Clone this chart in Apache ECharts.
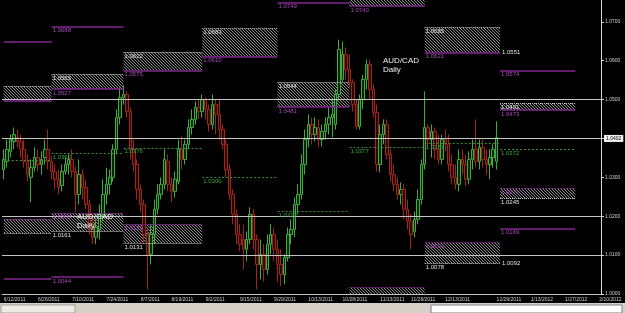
<!DOCTYPE html>
<html lang="en">
<head>
<meta charset="UTF-8">
<title>AUD/CAD Daily</title>
<script src="https://cdn.jsdelivr.net/npm/echarts@6/dist/echarts.min.js"></script>
<style>
    html, body { margin: 0; padding: 0; background: #000; }
    #chart { width: 625px; height: 313px; }
</style>
</head>
<body>
<div id="chart"></div>
<script>
    // monthly pivot periods (start of each month on the chart)
    var segStarts = ['2011-06-13', '2011-07-01', '2011-08-01', '2011-09-01', '2011-10-03',
                     '2011-11-01', '2011-12-01', '2012-01-02', '2012-02-01', '2012-02-10'];

    // x labels, index of the bar they sit on + text
    var tickIdx = [0, 10, 20, 30, 40, 49, 59, 69, 79, 89, 99, 110, 119, 129, 144, 154, 164, 174];
    var tickText = ['6/12/2011', '6/26/2011', '7/10/2011', '7/24/2011', '8/7/2011', '8/19/2011',
                    '9/2/2011', '9/15/2011', '9/29/2011', '10/13/2011', '10/28/2011', '11/13/2011',
                    '11/28/2011', '12/13/2011', '12/29/2011', '1/13/2012', '1/27/2012', '2/10/2012'];

    // daily bars: open, close, low, high
    var candles = [
        [1.0320,1.0346,1.0295,1.0372],[1.0341,1.0372,1.0325,1.0397],[1.0367,1.0397,1.0351,1.0410],
        [1.0392,1.0410,1.0372,1.0428],[1.0403,1.0392,1.0377,1.0423],[1.0392,1.0372,1.0351,1.0410],
        [1.0372,1.0341,1.0325,1.0397],[1.0341,1.0307,1.0289,1.0359],[1.0300,1.0325,1.0236,1.0346],
        [1.0325,1.0351,1.0315,1.0377],[1.0351,1.0333,1.0315,1.0372],[1.0333,1.0346,1.0307,1.0367],
        [1.0351,1.0372,1.0333,1.0397],[1.0372,1.0341,1.0320,1.0423],[1.0341,1.0315,1.0295,1.0354],
        [1.0315,1.0295,1.0269,1.0333],[1.0295,1.0274,1.0256,1.0320],[1.0279,1.0315,1.0264,1.0333],
        [1.0315,1.0333,1.0307,1.0351],[1.0333,1.0346,1.0307,1.0359],[1.0346,1.0315,1.0300,1.0372],
        [1.0315,1.0256,1.0210,1.0328],[1.0256,1.0307,1.0230,1.0346],[1.0307,1.0274,1.0243,1.0320],
        [1.0274,1.0230,1.0218,1.0295],[1.0230,1.0179,1.0153,1.0243],[1.0179,1.0146,1.0128,1.0197],
        [1.0146,1.0171,1.0128,1.0192],[1.0166,1.0205,1.0140,1.0230],[1.0205,1.0256,1.0187,1.0295],
        [1.0256,1.0282,1.0230,1.0325],[1.0282,1.0300,1.0256,1.0320],[1.0300,1.0372,1.0289,1.0385],
        [1.0372,1.0454,1.0359,1.0475],[1.0454,1.0505,1.0436,1.0531],[1.0505,1.0513,1.0487,1.0536],
        [1.0513,1.0469,1.0454,1.0521],[1.0469,1.0372,1.0346,1.0480],[1.0372,1.0333,1.0315,1.0397],
        [1.0333,1.0269,1.0243,1.0346],[1.0269,1.0230,1.0212,1.0282],[1.0230,1.0153,1.0128,1.0243],
        [1.0153,1.0102,1.0012,1.0166],[1.0102,1.0153,1.0076,1.0179],[1.0153,1.0218,1.0128,1.0243],
        [1.0218,1.0256,1.0205,1.0282],[1.0256,1.0282,1.0243,1.0300],[1.0282,1.0346,1.0269,1.0372],
        [1.0341,1.0282,1.0264,1.0359],[1.0282,1.0264,1.0236,1.0300],[1.0264,1.0295,1.0248,1.0315],
        [1.0289,1.0372,1.0282,1.0397],[1.0372,1.0346,1.0320,1.0405],[1.0346,1.0385,1.0333,1.0397],
        [1.0385,1.0428,1.0372,1.0449],[1.0428,1.0449,1.0410,1.0475],[1.0449,1.0480,1.0436,1.0495],
        [1.0480,1.0469,1.0449,1.0500],[1.0469,1.0500,1.0454,1.0513],[1.0500,1.0475,1.0449,1.0505],
        [1.0475,1.0436,1.0418,1.0487],[1.0436,1.0487,1.0423,1.0513],[1.0487,1.0462,1.0410,1.0500],
        [1.0462,1.0423,1.0397,1.0500],[1.0423,1.0385,1.0372,1.0436],[1.0385,1.0320,1.0300,1.0397],
        [1.0320,1.0256,1.0243,1.0333],[1.0256,1.0205,1.0179,1.0269],[1.0205,1.0153,1.0128,1.0218],
        [1.0153,1.0128,1.0110,1.0179],[1.0140,1.0115,1.0063,1.0179],[1.0115,1.0140,1.0084,1.0161],
        [1.0140,1.0205,1.0128,1.0223],[1.0205,1.0140,1.0115,1.0218],[1.0140,1.0076,1.0012,1.0153],
        [1.0076,1.0102,1.0038,1.0140],[1.0102,1.0063,1.0032,1.0128],[1.0063,1.0128,1.0050,1.0153],
        [1.0128,1.0153,1.0102,1.0179],[1.0153,1.0115,1.0084,1.0171],[1.0115,1.0076,1.0030,1.0140],
        [1.0076,1.0050,1.0020,1.0115],[1.0050,1.0094,1.0025,1.0102],[1.0094,1.0153,1.0084,1.0171],
        [1.0153,1.0166,1.0128,1.0192],[1.0166,1.0230,1.0146,1.0248],[1.0230,1.0256,1.0205,1.0282],
        [1.0256,1.0333,1.0243,1.0359],[1.0333,1.0397,1.0307,1.0423],[1.0397,1.0436,1.0377,1.0462],
        [1.0436,1.0410,1.0385,1.0454],[1.0410,1.0428,1.0392,1.0454],[1.0428,1.0397,1.0377,1.0449],
        [1.0397,1.0418,1.0379,1.0436],[1.0418,1.0436,1.0397,1.0454],[1.0436,1.0454,1.0410,1.0480],
        [1.0454,1.0462,1.0403,1.0500],[1.0436,1.0513,1.0423,1.0526],[1.0513,1.0629,1.0500,1.0654],
        [1.0552,1.0616,1.0546,1.0649],[1.0616,1.0577,1.0552,1.0634],[1.0577,1.0544,1.0531,1.0616],
        [1.0544,1.0487,1.0469,1.0552],[1.0487,1.0431,1.0423,1.0500],[1.0431,1.0500,1.0423,1.0513],
        [1.0500,1.0552,1.0475,1.0564],[1.0552,1.0590,1.0526,1.0603],[1.0590,1.0526,1.0500,1.0603],
        [1.0526,1.0467,1.0454,1.0539],[1.0467,1.0333,1.0315,1.0487],[1.0333,1.0410,1.0313,1.0436],
        [1.0410,1.0436,1.0385,1.0449],[1.0436,1.0359,1.0346,1.0449],[1.0359,1.0307,1.0289,1.0372],
        [1.0307,1.0282,1.0264,1.0333],[1.0282,1.0256,1.0243,1.0300],[1.0256,1.0269,1.0230,1.0287],
        [1.0269,1.0218,1.0192,1.0282],[1.0218,1.0187,1.0166,1.0243],[1.0187,1.0153,1.0115,1.0205],
        [1.0161,1.0192,1.0146,1.0212],[1.0192,1.0243,1.0179,1.0269],[1.0243,1.0333,1.0230,1.0346],
        [1.0333,1.0428,1.0320,1.0521],[1.0428,1.0397,1.0372,1.0436],[1.0397,1.0418,1.0351,1.0436],
        [1.0418,1.0372,1.0346,1.0428],[1.0372,1.0346,1.0333,1.0410],[1.0346,1.0397,1.0333,1.0410],
        [1.0397,1.0385,1.0367,1.0423],[1.0385,1.0333,1.0315,1.0410],[1.0333,1.0300,1.0282,1.0359],
        [1.0300,1.0282,1.0269,1.0333],[1.0282,1.0346,1.0264,1.0372],[1.0346,1.0333,1.0307,1.0372],
        [1.0333,1.0295,1.0277,1.0359],[1.0295,1.0346,1.0282,1.0367],[1.0346,1.0372,1.0320,1.0397],
        [1.0372,1.0341,1.0325,1.0449],[1.0341,1.0377,1.0320,1.0397],[1.0377,1.0346,1.0325,1.0397],
        [1.0346,1.0333,1.0307,1.0372],[1.0333,1.0351,1.0295,1.0372],[1.0351,1.0372,1.0325,1.0385],
        [1.0341,1.0402,1.0320,1.0444]
    ];

    // pivot zones per month: [segment, top, bottom, top label, bottom label]
    var upperZones = [
        [0, 1.0534, 1.0498, '', ''],
        [1, 1.0565, 1.0527, '1.0565', '1.0527'],
        [2, 1.0622, 1.0575, '1.0622', '1.0575'],
        [3, 1.0683, 1.0610, '1.0683', '1.0610'],
        [4, 1.0544, 1.0481, '1.0544', '1.0481'],
        [5, 1.0790, 1.0740, '', '1.0740'],
        [6, 1.0685, 1.0621, '1.0685', '1.0621'],
        [7, 1.0491, 1.0473, '1.0491', '1.0473']
    ];
    var lowerZones = [
        [0, 1.0192, 1.0156, '', ''],
        [1, 1.0207, 1.0161, '1.0207', '1.0161'],
        [2, 1.0179, 1.0131, '1.0179', '1.0131'],
        [5, 1.0017, 1.0000, '', ''],
        [6, 1.0133, 1.0078, '1.0133', '1.0078'],
        [7, 1.0271, 1.0245, '1.0271', '1.0245']
    ];
    // single purple levels: [segment, value, label]
    var purpleLines = [
        [0, 1.0649, ''], [0, 1.0038, ''], [1, 1.0688, '1.0688'], [1, 1.0044, '1.0044'],
        [4, 1.0749, '1.0749'], [7, 1.0574, '1.0574'], [7, 1.0169, '1.0169']
    ];
    // monthly pivot (green dotted): [segment, value, label]
    var pivots = [
        [0, 1.0343, ''], [1, 1.0362, '1.0362'], [2, 1.0376, '1.0376'], [3, 1.0300, '1.0300'],
        [4, 1.0213, '1.0213'], [5, 1.0377, '1.0377'], [6, 1.0387, '1.0387'], [7, 1.0372, '1.0372']
    ];
    // text at the right end of a zone: [segment, value, text]
    var endTags = [[6, 1.0621, '1.0551'], [6, 1.0078, '1.0092']];
    // hand drawn support / resistance lines
    var whiteLevels = [1.0500, 1.0444, 1.0236, 1.0189, 1.0128, 1.0022];
    var lastPrice = 1.0402;

    var FONT = 'Liberation Sans';
    var PURPLE = '#84268f';
    var PURPLE_TXT = '#a948bb';
    var WHITE_TXT = '#e0e0e0';
    var GREEN = '#3a913a';

    function weekdays(from, to) {
        var out = [];
        var d = new Date(from + 'T00:00:00Z');
        var end = new Date(to + 'T00:00:00Z');
        while (d <= end) {
            var wd = d.getUTCDay();
            if (wd !== 0 && wd !== 6) out.push(d.toISOString().slice(0, 10));
            d.setUTCDate(d.getUTCDate() + 1);
        }
        return out;
    }
    var dates = weekdays('2011-06-13', '2012-02-10');

    // diagonal hatch for the zones
    var hatch = document.createElement('canvas');
    hatch.width = 3;
    hatch.height = 3;
    var hc = hatch.getContext('2d');
    hc.fillStyle = '#050505';
    hc.fillRect(0, 0, 3, 3);
    hc.fillStyle = '#8e8e8e';
    for (var k = 0; k < 3; k++) hc.fillRect(k, k, 1, 1);

    function seg(s, v, line, label) {
        var a = {coord: [segStarts[s], v], lineStyle: line};
        if (label) a.label = label;
        return [a, {coord: [segStarts[s + 1], v]}];
    }
    function below(text, color) {
        return {
            show: !!text, position: 'insideStartBottom', distance: 1, formatter: text,
            color: color, fontSize: 6, fontFamily: FONT, padding: [0, 0, 0, 0]
        };
    }
    var noLabel = {show: false};

    var areas = [];
    var lines = [];
    var purpleSolid = {color: PURPLE, width: 1.5, type: 'solid'};
    var whiteDot = {color: '#c8c8c8', width: 1, type: [1, 1]};

    upperZones.forEach(function (z) {
        areas.push([{coord: [segStarts[z[0]], z[1]]}, {coord: [segStarts[z[0] + 1], z[2]]}]);
        lines.push(seg(z[0], z[1], whiteDot, z[3] ? below(z[3], WHITE_TXT) : noLabel));
        lines.push(seg(z[0], z[2], purpleSolid, z[4] ? below(z[4], PURPLE_TXT) : noLabel));
    });
    lowerZones.forEach(function (z) {
        areas.push([{coord: [segStarts[z[0]], z[1]]}, {coord: [segStarts[z[0] + 1], z[2]]}]);
        lines.push(seg(z[0], z[1], {color: PURPLE, width: 1.2, type: [2, 1]}, z[3] ? below(z[3], PURPLE_TXT) : noLabel));
        lines.push(seg(z[0], z[2], whiteDot, z[4] ? below(z[4], WHITE_TXT) : noLabel));
    });
    purpleLines.forEach(function (p) {
        lines.push(seg(p[0], p[1], purpleSolid, p[2] ? below(p[2], PURPLE_TXT) : noLabel));
    });
    pivots.forEach(function (p) {
        lines.push(seg(p[0], p[1], {color: GREEN, width: 1, type: [2, 2]}, p[2] ? below(p[2], '#3ea83e') : noLabel));
    });
    endTags.forEach(function (t) {
        lines.push(seg(t[0], t[1], {color: 'rgba(0,0,0,0)', width: 0}, {
            show: true, position: 'end', distance: 2, formatter: t[2],
            color: WHITE_TXT, fontSize: 6, fontFamily: FONT
        }));
    });

    var chart = echarts.init(document.getElementById('chart'));
    var option = {
        backgroundColor: '#000',
        animation: false,
        grid: {left: 2, right: 24, top: 0, bottom: 19},
        xAxis: {
            type: 'category',
            data: dates,
            boundaryGap: true,
            axisLine: {show: true, lineStyle: {color: '#6a6a6a', width: 1}},
            axisTick: {show: false},
            splitLine: {show: false},
            axisLabel: {
                color: '#d0d0d0', fontSize: 5, fontFamily: FONT, align: 'left', margin: 3,
                interval: function (i) { return tickIdx.indexOf(i) >= 0; },
                formatter: function (v, i) { return tickText[tickIdx.indexOf(i)]; }
            }
        },
        yAxis: {
            type: 'value',
            position: 'right',
            min: 1.0,
            max: 1.0756,
            interval: 0.01,
            axisLine: {show: true, lineStyle: {color: '#d8d8d8', width: 1}},
            axisTick: {show: true, length: 3, lineStyle: {color: '#d8d8d8'}},
            splitLine: {show: false},
            axisLabel: {
                color: '#d0d0d0', fontSize: 5, fontFamily: FONT, margin: 4, showMaxLabel: false,
                formatter: function (v) { return v.toFixed(4); }
            }
        },
        series: [
            {
                // pivot zones and levels, under the bars
                type: 'line',
                data: [],
                z: 1,
                silent: true,
                markArea: {
                    silent: true,
                    itemStyle: {color: {image: hatch, repeat: 'repeat'}, borderWidth: 0},
                    data: areas
                },
                markLine: {
                    silent: true,
                    symbol: ['none', 'none'],
                    animation: false,
                    data: lines
                }
            },
            {
                type: 'candlestick',
                data: candles,
                z: 3,
                barWidth: 3,
                itemStyle: {
                    color: '#082808',
                    color0: '#2a0806',
                    borderColor: '#3cae3c',
                    borderColor0: '#a3241b',
                    borderWidth: 1
                },
                markLine: {
                    silent: true,
                    symbol: ['none', 'none'],
                    animation: false,
                    data: [{
                        yAxis: lastPrice,
                        lineStyle: {color: 'rgba(0,0,0,0)', width: 0},
                        label: {
                            show: true, position: 'end', distance: 3, formatter: lastPrice.toFixed(4),
                            color: '#000', backgroundColor: '#f2f2f2', fontSize: 5, fontFamily: FONT,
                            padding: [1, 2, 1, 2]
                        }
                    }]
                }
            },
            {
                // support / resistance lines drawn over the bars
                type: 'line',
                data: [],
                z: 4,
                silent: true,
                markLine: {
                    silent: true,
                    symbol: ['none', 'none'],
                    animation: false,
                    label: {show: false},
                    lineStyle: {color: '#c4c4c4', width: 1, type: 'solid'},
                    data: whiteLevels.map(function (v) { return {yAxis: v}; })
                }
            }
        ],
        graphic: [
            {type: 'text', left: 383, top: 56, z: 10,
             style: {text: 'AUD/CAD\nDaily', fill: '#f0f0f0', font: '8px "Liberation Sans"', lineHeight: 9}},
            {type: 'text', left: 77, top: 212, z: 10,
             style: {text: 'AUD/CAD\nDaily', fill: '#f0f0f0', font: '8px "Liberation Sans"', lineHeight: 9}},
            {type: 'rect', shape: {x: 0, y: 303, width: 625, height: 10}, style: {fill: '#d4d0c8'}, z: 10},
            {type: 'rect', shape: {x: 1, y: 305, width: 74, height: 8}, style: {fill: '#ecebe6', stroke: '#a0a0a0', lineWidth: 1}, z: 11},
            {type: 'rect', shape: {x: 431, y: 305, width: 191, height: 8}, style: {fill: '#ffffff', stroke: '#808080', lineWidth: 1}, z: 11}
        ]
    };
    chart.setOption(option);
</script>
</body>
</html>
